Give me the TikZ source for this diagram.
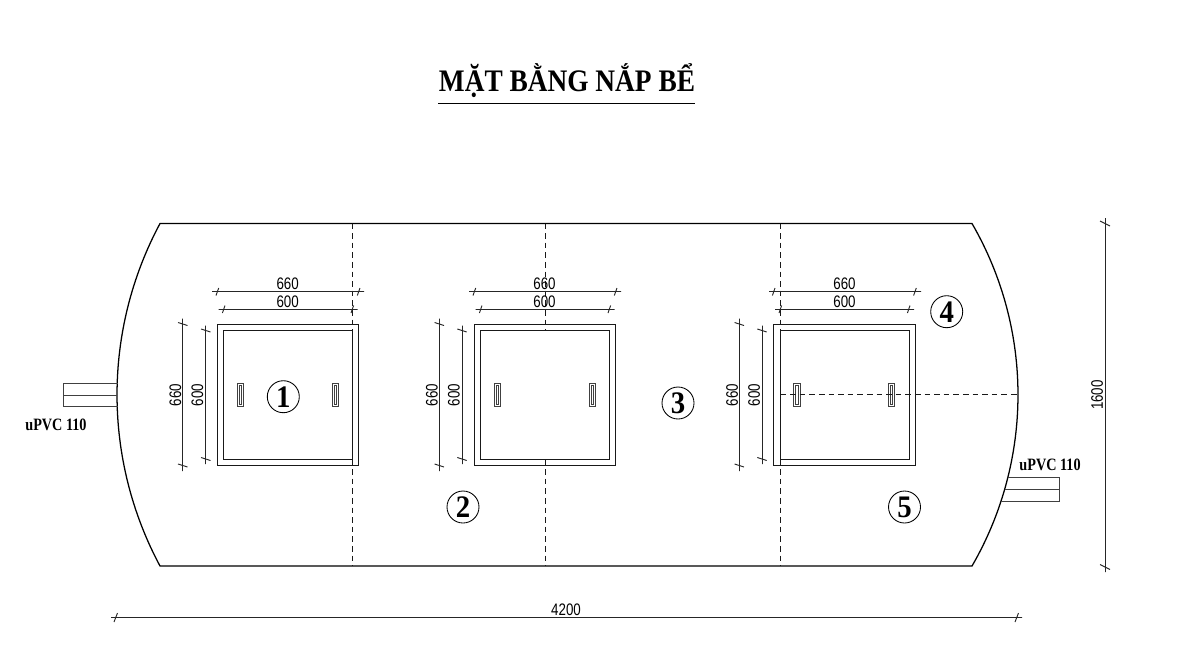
\documentclass[tikz,border=0pt]{standalone}
\usepackage{fontspec}
\setmainfont{Liberation Serif}
\newfontfamily\dimfont[FakeStretch=0.8]{Liberation Sans}
\newfontfamily\pipefont[FakeStretch=0.82]{Liberation Serif Bold}
\newfontfamily\titlefont[FakeStretch=0.873]{Liberation Serif Bold}
\newfontfamily\numfont[FakeStretch=0.92]{Liberation Serif Bold}
\tikzset{
	wall/.style={line width=0.95pt,color=black},
	lid/.style={line width=1.1pt,color=black!90},
	grip/.style={line width=0.55pt,color=black!75},
	hidden/.style={line width=0.8pt,dash pattern=on 4.2pt off 3pt,color=black!90},
	dimline/.style={line width=0.7pt,color=black!85},
	dimtext/.style={inner sep=0.75pt,font=\dimfont\fontsize{12.5}{14}\selectfont,color=black},
	sonum/.style={circle,draw,line width=0.65pt,minimum size=24pt,inner sep=0pt,font=\numfont\fontsize{23.5}{25}\selectfont},
	pipetext/.style={inner sep=0.75pt,font=\pipefont\fontsize{13}{15}\selectfont},
}
\begin{document}
\begin{tikzpicture}[x=0.75pt,y=0.75pt,yscale=-1,xscale=1]
	\useasboundingbox (0,0) rectangle (1194,654);

	% Title
	\draw (567,80.5) node (title) [inner sep=0.75pt,font=\titlefont\fontsize{23.5}{26}\selectfont] {MẶT BẰNG NẮP BỂ};
	\draw [line width=0.7pt] (438,103.5) -- (695,103.5);

	% Outline
	\draw [wall] (160,223.5) -- (972,223.5) .. controls (1033.3,329.4) and (1033.3,460.1) .. (972,566) -- (160,566) .. controls (102.7,459) and (102.7,330.5) .. (160,223.5) -- cycle;

	% Pipes
	\draw [grip,line width=0.75pt] (117.5,383.5) -- (63.5,383.5) -- (63.5,406.5) -- (117.5,406.5) (63.5,395) -- (117,395);
	\draw [grip,line width=0.75pt] (1007.5,477.5) -- (1059.5,477.5) -- (1059.5,501.5) -- (1001,501.5) (1004.7,489.5) -- (1059.5,489.5);

	% Hidden walls
	\draw [hidden] (352.5,223.5) -- (352.5,330.5);
	\draw [hidden] (352.5,459.5) -- (352.5,566);
	\draw [hidden] (545.5,223.5) -- (545.5,330.5);
	\draw [hidden] (545.5,459.5) -- (545.5,566);
	\draw [hidden] (780.5,223.5) -- (780.5,330.5);
	\draw [hidden] (780.5,459.5) -- (780.5,566);

	% Lid left
	\draw [lid] (217.5,324.5) rectangle (358.5,465.5);
	\draw [lid] (223.5,330.5) rectangle (352.5,459.5);
	\draw [grip] (237.5,383.5) rectangle (243.5,406.5);
	\draw [grip] (239.5,385.5) rectangle (241.5,404.5);
	\draw [grip] (332.5,383.5) rectangle (338.5,406.5);
	\draw [grip] (334.5,385.5) rectangle (336.5,404.5);

	% Lid middle
	\draw [lid] (474.5,324.5) rectangle (615.5,465.5);
	\draw [lid] (480.5,330.5) rectangle (609.5,459.5);
	\draw [grip] (494.5,383.5) rectangle (500.5,406.5);
	\draw [grip] (496.5,385.5) rectangle (498.5,404.5);
	\draw [grip] (589.5,383.5) rectangle (595.5,406.5);
	\draw [grip] (591.5,385.5) rectangle (593.5,404.5);

	% Lid right
	\draw [lid] (773.5,324.5) rectangle (915.5,465.5);
	\draw [lid] (780.5,330.5) rectangle (909.5,459.5);
	\draw [grip] (793.5,383.5) rectangle (800.5,406.5);
	\draw [grip] (795.5,385.5) rectangle (798.5,404.5);
	\draw [grip] (888.5,383.5) rectangle (894.5,406.5);
	\draw [grip] (890.5,385.5) rectangle (892.5,404.5);
	\draw [hidden] (780.5,394.5) -- (1018,394.5);

	% Dimensions left
	\draw [dimline] (212,291.5) -- (364,291.5) (216,295.5) -- (218.7,288) (357.3,295.5) -- (360,288);
	\draw [dimline] (218.5,309.5) -- (357.5,309.5) (222.4,313) -- (225,305.5) (351,313) -- (353.6,305.5);
	\draw [dimline] (182.5,318.5) -- (182.5,471) (178,322.5) -- (187.5,325.5) (178,464) -- (187.5,467);
	\draw [dimline] (205.5,325.5) -- (205.5,464) (201,329) -- (210.5,332) (201,457.5) -- (210.5,460.5);
	\draw (287.7,284) node (topa) [dimtext] {660};
	\draw (287.7,301.7) node (topb) [dimtext] {600};
	\draw (175.5,395) node (sidea) [dimtext,rotate=90] {660};
	\draw (197.5,395) node (sideb) [dimtext,rotate=90] {600};

	% Dimensions middle
	\draw [dimline] (469,291.5) -- (621,291.5) (473,295.5) -- (475.7,288) (614.3,295.5) -- (617,288);
	\draw [dimline] (475.5,309.5) -- (614.5,309.5) (479.4,313) -- (482,305.5) (608,313) -- (610.6,305.5);
	\draw [dimline] (439.5,318.5) -- (439.5,471) (434.6,322.5) -- (444,325.5) (434.6,464) -- (444,467);
	\draw [dimline] (462.5,325.5) -- (462.5,464) (457.3,329) -- (466.7,332) (457.3,457.5) -- (466.7,460.5);
	\draw (544.5,284) node (topc) [dimtext] {660};
	\draw (544.5,301.7) node (topd) [dimtext] {600};
	\draw (432,395) node (sidec) [dimtext,rotate=90] {660};
	\draw (454,395) node (sided) [dimtext,rotate=90] {600};

	% Dimensions right
	\draw [dimline] (769,291.5) -- (921,291.5) (772.4,295.5) -- (775,288) (913.6,295.5) -- (916.3,288);
	\draw [dimline] (775,309.5) -- (914,309.5) (779,313) -- (781.6,305.5) (907.4,313) -- (910,305.5);
	\draw [dimline] (739.5,318.5) -- (739.5,471) (734.6,322.5) -- (744,325.5) (734.6,464) -- (744,467);
	\draw [dimline] (762.5,325.5) -- (762.5,464) (757.3,329) -- (766.7,332) (757.3,457.5) -- (766.7,460.5);
	\draw (844.5,284) node (tope) [dimtext] {660};
	\draw (844.5,301.7) node (topf) [dimtext] {600};
	\draw (732,395) node (sidee) [dimtext,rotate=90] {660};
	\draw (754,395) node (sidef) [dimtext,rotate=90] {600};

	% Overall dimensions
	\draw [dimline] (111,617.5) -- (1022,617.5) (114,622) -- (117.5,613) (1015,622) -- (1018.5,613);
	\draw [dimline] (1105.5,218) -- (1105.5,572) (1100,221) -- (1110,226) (1100,564.5) -- (1110,569.5);
	\draw (566,610) node (width) [dimtext] {4200};
	\draw (1097,395) node (height) [dimtext,rotate=90] {1600};

	% Compartment numbers
	\draw (283.3,396.7) node (no1) [sonum] {1};
	\draw (463,507) node (no2) [sonum] {2};
	\draw (678,403) node (no3) [sonum] {3};
	\draw (946.7,311.7) node (no4) [sonum] {4};
	\draw (904.5,507) node (no5) [sonum] {5};

	% Pipe labels
	\draw (56,425) node (pipein) [pipetext] {uPVC 110};
	\draw (1050,465) node (pipeout) [pipetext] {uPVC 110};
\end{tikzpicture}
\end{document}
